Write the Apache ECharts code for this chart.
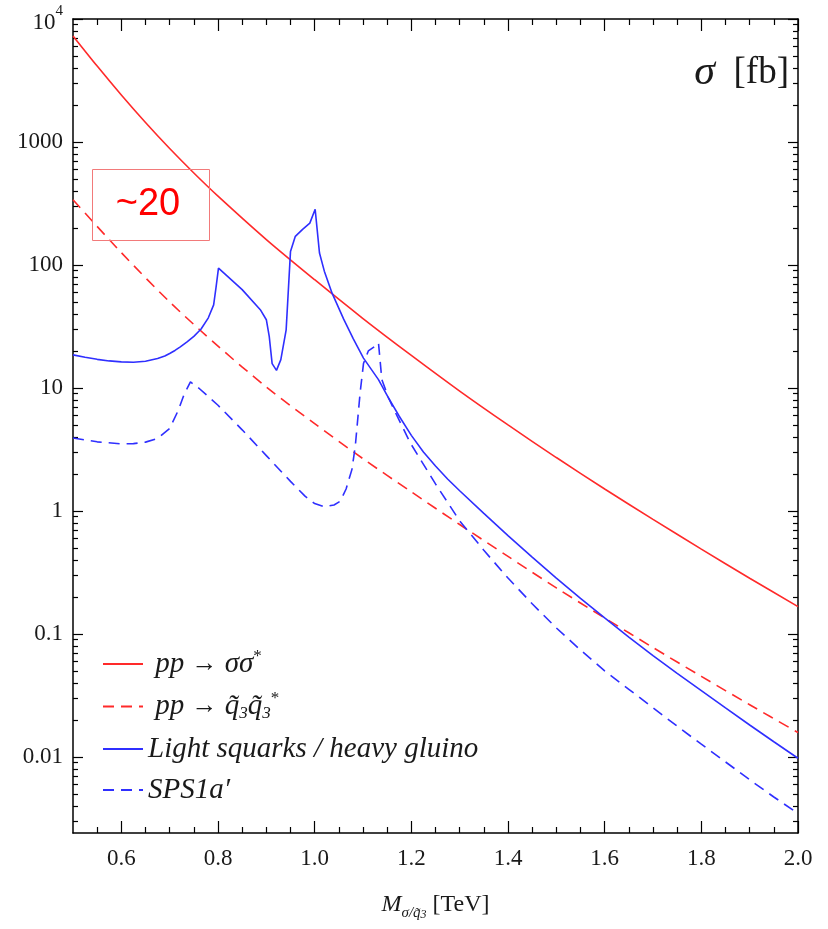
<!DOCTYPE html>
<html><head><meta charset="utf-8">
<script src="https://cdn.jsdelivr.net/npm/echarts@6/dist/echarts.min.js"></script>
<style>html,body{margin:0;padding:0;background:#fff}#c{width:828px;height:929px}</style>
</head><body><div id="c"></div>
<script>
// ---- data (cross sections in fb vs mass in TeV) ----
const redSolidX = [0.5,0.55,0.6,0.65,0.7,0.75,0.8,0.9,1.0,1.1,1.2,1.3,1.4,1.5,1.6,1.7,1.8,1.9,2.0];
const redSolidY = [7280,4140,2410,1440,885,560,363,161,75.9,36.7,18.4,9.44,5.01,2.72,1.51,0.855,0.490,0.284,0.167];

const redDashX = [0.5,0.6,0.7,0.8,0.9,1.0,1.1,1.2,1.3,1.4,1.5,1.6,1.7,1.8,1.9,2.0];
const redDashY = [339,126,50.1,21.9,10.2,5.13,2.66,1.43,0.776,0.427,0.237,0.135,0.0776,0.0452,0.0266,0.0158];

const blueSolidX = [0.5,0.525,0.55,0.575,0.6,0.625,0.65,0.675,0.69,0.7,0.711,0.722,0.736,0.75,0.765,0.78,0.791,0.796,0.801,0.85,0.8875,0.9,0.906,0.912,0.921,0.93,0.941,0.95,0.96,0.975,0.99,1.001,1.01,1.02,1.036,1.06,1.08,1.101,1.132,1.153,1.175,1.2,1.225,1.25,1.275,1.3,1.35,1.4,1.45,1.5,1.55,1.6,1.65,1.7,1.75,1.8,1.85,1.9,1.95,2.0];
const blueSolidY = [18.6,17.8,17.1,16.6,16.3,16.2,16.5,17.4,18.2,19.1,20.2,21.6,23.7,26.3,30.2,37.2,47.4,66.1,94.2,63.1,43.3,35.9,26.3,15.8,13.9,17.0,29.7,129,171,195,219,284,125,89.1,59.0,36.3,25.1,17.5,11.7,8.28,5.89,4.12,3.02,2.32,1.82,1.46,0.955,0.631,0.422,0.285,0.195,0.135,0.0944,0.0668,0.0479,0.0347,0.0251,0.0182,0.0133,0.00977];

const blueDashX = [0.5,0.55,0.6,0.625,0.65,0.675,0.7,0.718,0.73,0.743,0.76,0.8,0.85,0.9,0.95,0.98,1.0,1.02,1.04,1.053,1.065,1.077,1.084,1.094,1.101,1.111,1.125,1.132,1.139,1.153,1.171,1.198,1.25,1.3,1.35,1.4,1.45,1.5,1.55,1.6,1.65,1.7,1.75,1.8,1.85,1.9,1.95,2.0];
const blueDashY = [3.92,3.65,3.51,3.53,3.63,3.89,4.68,6.61,8.91,11.2,10.0,7.24,4.57,2.82,1.74,1.32,1.15,1.08,1.12,1.20,1.51,2.17,3.35,9.10,15.8,20.0,21.9,23.3,11.7,8.28,5.87,3.57,1.66,0.832,0.479,0.285,0.176,0.112,0.0741,0.0501,0.0355,0.0251,0.0178,0.0127,0.00912,0.00653,0.00473,0.00347];

const seriesNames = ['pp → σσ*', 'pp → q̃3q̃3*', 'Light squarks / heavy gluino', "SPS1a′"];

// ---- ticks ----
const xMajor = [0.6,0.8,1.0,1.2,1.4,1.6,1.8,2.0];
const xMinor = [];
for (let i = 11; i <= 39; i++) { if (i % 4 !== 0) xMinor.push(Number((i*0.05).toFixed(2))); }
const yMajor = [0.01,0.1,1,10,100,1000,10000];
const yMinor = [];
for (let d = -3; d <= 3; d++) for (let k = 2; k <= 9; k++) {
  const v = Number((k*Math.pow(10,d)).toPrecision(6));
  if (v > 0.00241 && v < 10000) yMinor.push(v);
}
const yLabelText = {0.01:'0.01',0.1:'0.1',1:'1',10:'10',100:'100',1000:'1000',10000:'{b|10}{s|4}'};

const X_MIN = 0.5, X_MAX = 2.0, Y_MIN = 0.00241, Y_MAX = 10000;
const SERIF = 'Liberation Serif';
const RED = '#ff2a2a', BLUE = '#2f2fff';

function zip(xs, ys){ return xs.map((x,i)=>[x, ys[i]]); }

const chart = echarts.init(document.getElementById('c'), null, {renderer:'canvas'});

function xAx(grid, pos, major) {
  return {
    gridIndex: grid, type:'value', position: pos, min: X_MIN, max: X_MAX,
    axisLine: {show: major, onZero:false, lineStyle:{color:'#000', width:1.5}},
    axisTick: {show:true, inside:true, length: major?12:6, customValues: major?xMajor:xMinor, lineStyle:{color:'#000', width:1.2}},
    axisLabel: (major && pos==='bottom') ? {show:true, customValues:xMajor, formatter:v=>Number(v).toFixed(1), fontFamily:SERIF, fontSize:23, color:'#1a1a1a', margin:14} : {show:false},
    splitLine: {show:false}
  };
}
function yAx(grid, pos, major) {
  return {
    gridIndex: grid, type:'log', logBase:10, position: pos, min: Y_MIN, max: Y_MAX,
    axisLine: {show: major, onZero:false, lineStyle:{color:'#000', width:1.5}},
    axisTick: {show:true, inside:true, length: major?10:5, customValues: major?yMajor:yMinor, lineStyle:{color:'#000', width:1.2}},
    axisLabel: (major && pos==='left') ? {show:true, customValues:yMajor, formatter:v=>yLabelText[v] || String(v), fontFamily:SERIF, fontSize:23, color:'#1a1a1a', margin:10,
      rich:{b:{fontFamily:SERIF, fontSize:23, color:'#1a1a1a', lineHeight:30, verticalAlign:'bottom'}, s:{fontFamily:SERIF, fontSize:15, color:'#1a1a1a', lineHeight:30, verticalAlign:'top'}}} : {show:false},
    splitLine: {show:false}
  };
}

const xa = [xAx(0,'bottom',true), xAx(0,'top',true), xAx(1,'bottom',false), xAx(1,'top',false)];
xa[0].name = '{m|M}{s|σ/q̃}{ss|3}{n| [TeV]}';
xa[0].nameLocation = 'middle';
xa[0].nameGap = 56;
xa[0].nameTextStyle = {rich:{
  m:{fontFamily:SERIF, fontStyle:'italic', fontSize:24, color:'#1a1a1a', lineHeight:32, verticalAlign:'middle'},
  s:{fontFamily:SERIF, fontStyle:'italic', fontSize:15, color:'#1a1a1a', lineHeight:32, verticalAlign:'bottom'},
  ss:{fontFamily:SERIF, fontStyle:'italic', fontSize:12, color:'#1a1a1a', lineHeight:28, verticalAlign:'bottom'},
  n:{fontFamily:SERIF, fontSize:24, color:'#1a1a1a', lineHeight:32, verticalAlign:'middle'}
}};

const legendRich = {
  i:{fontFamily:SERIF, fontStyle:'italic', fontSize:29, color:'#1a1a1a', lineHeight:32, verticalAlign:'middle'},
  r:{fontFamily:SERIF, fontSize:26, color:'#1a1a1a', lineHeight:32, verticalAlign:'middle'},
  sup:{fontFamily:SERIF, fontSize:17, color:'#1a1a1a', lineHeight:32, verticalAlign:'top'},
  sub:{fontFamily:SERIF, fontStyle:'italic', fontSize:17, color:'#1a1a1a', lineHeight:32, verticalAlign:'bottom'}
};
const legendFmt = {};
legendFmt[seriesNames[0]] = '{i| pp }{r|→}{i| σσ}{sup|*}';
legendFmt[seriesNames[1]] = '{i| pp }{r|→}{i| q̃}{sub|3}{i|q̃}{sub|3}{sup|*}';
legendFmt[seriesNames[2]] = '{i|Light squarks / heavy gluino}';
legendFmt[seriesNames[3]] = "{i|SPS1a′}";

function lineSeries(name, xs, ys, color, dashed, smooth) {
  return {
    name, type:'line', xAxisIndex:0, yAxisIndex:0, data: zip(xs, ys),
    symbol:'none', showSymbol:false, smooth: smooth, clip:true,
    lineStyle:{color, width:1.6, type: dashed ? [11,7] : 'solid'},
    itemStyle:{color}
  };
}

chart.setOption({
  animation:false,
  backgroundColor:'#fff',
  grid:[
    {left:73, right:30, top:19, bottom:96},
    {left:73, right:30, top:19, bottom:96}
  ],
  xAxis: xa,
  yAxis: [yAx(0,'left',true), yAx(0,'right',true), yAx(1,'left',false), yAx(1,'right',false)],
  legend:{
    orient:'vertical', left:97, top:643, itemWidth:40, itemHeight:14, itemGap:12,
    data: seriesNames,
    formatter: n => legendFmt[n],
    itemStyle:{opacity:0, color:'transparent', borderWidth:0},
    textStyle:{rich: legendRich},
    selectedMode:false
  },
  series:[
    lineSeries(seriesNames[0], redSolidX, redSolidY, RED, false, 0.3),
    lineSeries(seriesNames[1], redDashX, redDashY, RED, true, 0.3),
    lineSeries(seriesNames[2], blueSolidX, blueSolidY, BLUE, false, false),
    lineSeries(seriesNames[3], blueDashX, blueDashY, BLUE, true, false)
  ],
  graphic:[
    {type:'rect', left:90, top:167, shape:{width:117, height:71}, style:{fill:'none', stroke:'#f27a7a', lineWidth:1}, z:10},
    {type:'text', x:148, y:205, style:{text:'~20', fill:'#ff0000', fontSize:38, fontFamily:'Liberation Sans', align:'center', verticalAlign:'middle'}, z:10},
    {type:'text', x:789, y:73, style:{text:'{i|σ}{r|  [fb]}', align:'right', verticalAlign:'middle',
      rich:{i:{fontFamily:SERIF, fontStyle:'italic', fontSize:42, fill:'#1a1a1a'}, r:{fontFamily:SERIF, fontSize:37, fill:'#1a1a1a'}}}, z:10}
  ]
});
</script></body></html>
